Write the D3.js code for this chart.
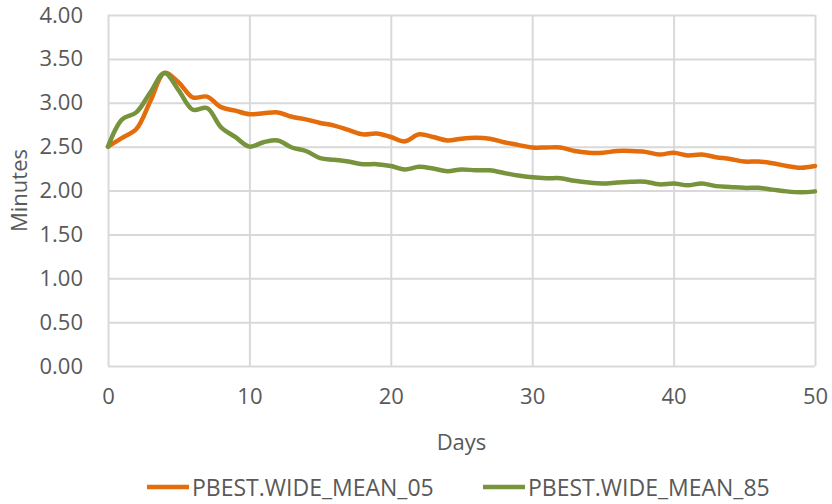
<!DOCTYPE html>
<html>
<head>
<meta charset="utf-8">
<script src="https://cdn.jsdelivr.net/npm/d3@7"></script>
<style>
  html, body { margin: 0; padding: 0; background: #fff; }
  svg text { font-family: "Open Sans", sans-serif; fill: #595959; }
</style>
</head>
<body>
<svg id="chart" width="832" height="504"></svg>
<script>
// Days 0..50
const days = d3.range(0, 51);

// Mean response time (minutes) per day, two scenarios
const mean05 = [
  2.50, 2.60, 2.70, 3.02, 3.34, 3.23, 3.06, 3.07, 2.95, 2.91,
  2.87, 2.88, 2.89, 2.84, 2.81, 2.77, 2.74, 2.69, 2.64, 2.65,
  2.61, 2.56, 2.64, 2.61, 2.57, 2.59, 2.60, 2.59, 2.55, 2.52,
  2.49, 2.49, 2.49, 2.45, 2.43, 2.43, 2.45, 2.45, 2.44, 2.41,
  2.43, 2.40, 2.41, 2.38, 2.36, 2.33, 2.33, 2.31, 2.28, 2.26,
  2.28
];
const mean85 = [
  2.50, 2.81, 2.89, 3.12, 3.34, 3.14, 2.92, 2.94, 2.72, 2.61,
  2.50, 2.55, 2.57, 2.49, 2.45, 2.37, 2.35, 2.33, 2.30, 2.30,
  2.28, 2.24, 2.27, 2.25, 2.22, 2.24, 2.23, 2.23, 2.20, 2.17,
  2.15, 2.14, 2.14, 2.11, 2.09, 2.08, 2.09, 2.10, 2.10, 2.07,
  2.08, 2.06, 2.08, 2.05, 2.04, 2.03, 2.03, 2.01, 1.99, 1.98,
  1.99
];

const seriesNames = ["PBEST.WIDE_MEAN_05", "PBEST.WIDE_MEAN_85"];
const seriesColors = ["#E46C0A", "#77933C"];
const xTicks = [0, 10, 20, 30, 40, 50];
const yTicks = [0, 0.5, 1, 1.5, 2, 2.5, 3, 3.5, 4];

const svg = d3.select("#chart");
const W = 832, H = 504;
const m = { left: 108, right: 17, top: 15, bottom: 138 };
const iw = W - m.left - m.right, ih = H - m.top - m.bottom;

const x = d3.scaleLinear().domain([0, 50]).range([m.left, m.left + iw]);
const y = d3.scaleLinear().domain([0, 4]).range([m.top + ih, m.top]);

const grid = "#d9d9d9";

// horizontal gridlines
svg.append("g")
  .attr("transform", `translate(${m.left},0)`)
  .call(d3.axisLeft(y).tickValues(yTicks).tickSize(-iw).tickFormat(""))
  .call(g => g.select(".domain").remove())
  .call(g => g.selectAll("line").attr("stroke", grid).attr("stroke-width", 2));

// vertical gridlines
svg.append("g")
  .attr("transform", `translate(0,${m.top + ih})`)
  .call(d3.axisBottom(x).tickValues(xTicks).tickSize(-ih).tickFormat(""))
  .call(g => g.select(".domain").remove())
  .call(g => g.selectAll("line").attr("stroke", grid).attr("stroke-width", 2));

// y tick labels
svg.append("g")
  .attr("transform", `translate(${m.left},0)`)
  .call(d3.axisLeft(y).tickValues(yTicks).tickSize(0).tickPadding(25).tickFormat(d3.format(".2f")))
  .call(g => g.select(".domain").remove())
  .call(g => g.selectAll("text").attr("font-size", 22).style("font-family", "'Open Sans', sans-serif").attr("fill", "#595959"));

// x tick labels
svg.append("g")
  .attr("transform", `translate(0,${m.top + ih})`)
  .call(d3.axisBottom(x).tickValues(xTicks).tickSize(0).tickPadding(22).tickFormat(d3.format("d")))
  .call(g => g.select(".domain").remove())
  .call(g => g.selectAll("text").attr("font-size", 22).style("font-family", "'Open Sans', sans-serif").attr("fill", "#595959"));

// axis titles
svg.append("text")
  .attr("x", x(25)).attr("y", 441)
  .attr("text-anchor", "middle").attr("dominant-baseline", "central")
  .attr("font-size", 22).text("Days");

svg.append("text")
  .attr("transform", `translate(18,${y(2)}) rotate(-90)`)
  .attr("text-anchor", "middle").attr("dominant-baseline", "central")
  .attr("font-size", 22).text("Minutes");

// data lines
const line = d3.line()
  .x((d, i) => x(days[i]))
  .y(d => y(d))
  .curve(d3.curveCatmullRom.alpha(0.5));

[mean05, mean85].forEach((vals, k) => {
  svg.append("path")
    .datum(vals)
    .attr("fill", "none")
    .attr("stroke", seriesColors[k])
    .attr("stroke-width", 4.5)
    .attr("stroke-linejoin", "round")
    .attr("stroke-linecap", "round")
    .attr("d", line);
});

// legend
const legendX = [147, 483];
const legendY = 487;
seriesNames.forEach((name, k) => {
  const g = svg.append("g").attr("transform", `translate(${legendX[k]},${legendY})`);
  g.append("line")
    .attr("x1", 0).attr("x2", 42).attr("y1", 0).attr("y2", 0)
    .attr("stroke", seriesColors[k]).attr("stroke-width", 4.5);
  g.append("text")
    .attr("x", 45).attr("y", 0)
    .attr("dominant-baseline", "central")
    .attr("font-size", 23).text(name);
});
</script>
</body>
</html>
